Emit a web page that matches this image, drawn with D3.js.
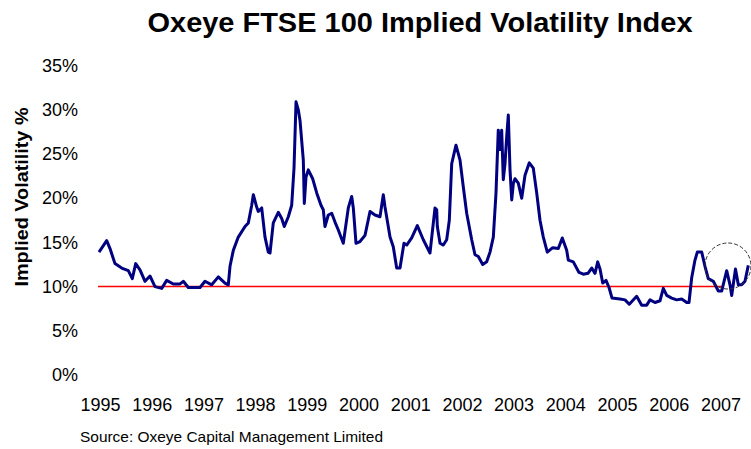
<!DOCTYPE html>
<html>
<head>
<meta charset="utf-8">
<script src="https://cdn.jsdelivr.net/npm/d3@7"></script>
<style>
  html, body { margin: 0; padding: 0; background: #fff; }
  svg { display: block; font-family: Arial, "Liberation Sans", sans-serif; }
</style>
</head>
<body>
<div id="chart"></div>
<script>
// decimal year of each reading
const years = [
  1995.000, 1995.149, 1995.213, 1995.309, 1995.439, 1995.567, 1995.644, 1995.710, 1995.793, 1995.890,
  1995.986, 1996.083, 1996.213, 1996.309, 1996.437, 1996.567, 1996.631, 1996.727, 1996.954, 1997.050,
  1997.180, 1997.308, 1997.437, 1997.501, 1997.534, 1997.598, 1997.694, 1997.824, 1997.888, 1997.954,
  1997.985, 1998.050, 1998.081, 1998.147, 1998.211, 1998.275, 1998.308, 1998.371, 1998.468, 1998.534,
  1998.584, 1998.662, 1998.727, 1998.772, 1998.811, 1998.855, 1998.888, 1998.952, 1998.971, 1999.004,
  1999.048, 1999.133, 1999.211, 1999.294, 1999.338, 1999.371, 1999.435, 1999.501, 1999.565, 1999.629,
  1999.725, 1999.822, 1999.888, 1999.919, 1999.971, 2000.048, 2000.145, 2000.242, 2000.338, 2000.435,
  2000.499, 2000.532, 2000.629, 2000.692, 2000.758, 2000.822, 2000.899, 2000.952, 2001.048, 2001.157,
  2001.273, 2001.402, 2001.499, 2001.532, 2001.544, 2001.596, 2001.660, 2001.725, 2001.776, 2001.822,
  2001.905, 2001.983, 2002.046, 2002.112, 2002.209, 2002.273, 2002.337, 2002.422, 2002.499, 2002.563,
  2002.627, 2002.679, 2002.723, 2002.756, 2002.789, 2002.820, 2002.853, 2002.886, 2002.917, 2002.950,
  2002.983, 2003.015, 2003.046, 2003.110, 2003.176, 2003.240, 2003.323, 2003.400, 2003.466, 2003.530,
  2003.594, 2003.671, 2003.776, 2003.884, 2003.961, 2004.046, 2004.077, 2004.174, 2004.284, 2004.368,
  2004.458, 2004.530, 2004.594, 2004.646, 2004.691, 2004.743, 2004.807, 2004.865, 2004.923, 2005.077,
  2005.174, 2005.257, 2005.400, 2005.497, 2005.594, 2005.658, 2005.754, 2005.851, 2005.915, 2005.981,
  2006.077, 2006.174, 2006.271, 2006.368, 2006.412, 2006.464, 2006.528, 2006.573, 2006.658, 2006.721,
  2006.785, 2006.882, 2006.979, 2007.044, 2007.141, 2007.205, 2007.238, 2007.311, 2007.366, 2007.431,
  2007.495, 2007.559
];

// implied volatility, %
const vols = [
  13.9, 15.2, 14.3, 12.6, 12.1, 11.8, 10.9, 12.6, 11.9, 10.6,
  11.2, 10.0, 9.8, 10.7, 10.3, 10.3, 10.6, 9.9, 9.9, 10.6,
  10.2, 11.1, 10.4, 10.2, 12.3, 14.1, 15.6, 16.8, 17.2, 19.2,
  20.4, 19.0, 18.5, 18.9, 15.6, 13.9, 13.8, 17.2, 18.4, 17.7,
  16.8, 17.9, 19.2, 23.4, 30.9, 30.0, 28.8, 24.3, 19.4, 22.4,
  23.2, 22.2, 20.6, 19.2, 18.7, 16.8, 18.1, 18.3, 17.3, 16.4,
  14.9, 18.9, 20.2, 18.9, 14.9, 15.1, 15.8, 18.5, 18.1, 17.9,
  20.4, 19.0, 15.6, 14.5, 12.1, 12.1, 14.9, 14.7, 15.5, 16.9,
  15.3, 13.8, 18.9, 18.7, 16.8, 14.9, 14.7, 15.3, 17.5, 23.9,
  26.0, 24.3, 21.3, 18.3, 15.3, 13.6, 13.4, 12.5, 12.8, 13.9,
  15.6, 20.6, 27.7, 25.5, 27.7, 22.1, 23.9, 27.0, 29.4, 23.2,
  19.8, 21.7, 22.2, 21.7, 20.0, 22.6, 24.0, 23.4, 20.6, 17.5,
  15.6, 13.9, 14.4, 14.3, 15.5, 14.1, 13.0, 12.8, 11.6, 11.4,
  11.5, 12.1, 11.5, 12.8, 12.0, 10.4, 10.7, 9.9, 8.7, 8.6,
  8.5, 8.0, 8.9, 7.9, 7.9, 8.5, 8.2, 8.4, 9.8, 9.0,
  8.7, 8.5, 8.6, 8.2, 8.2, 11.0, 13.0, 13.9, 13.9, 12.3,
  10.9, 10.6, 9.5, 9.5, 11.8, 10.2, 9.0, 12.0, 10.2, 10.2,
  10.6, 12.4
];

const yearTicks = [1995, 1996, 1997, 1998, 1999, 2000, 2001, 2002, 2003, 2004, 2005, 2006, 2007];
const volTicks = [0, 5, 10, 15, 20, 25, 30, 35];

// 10% reference level and the period it spans
const refLevel = 10;
const refSpan = [1995.0, 2007.05];

// circled recent readings
const highlight = { year: 2007.166, vol: 12.33 };

const width = 751;
const height = 449;

const svg = d3.select('#chart')
  .append('svg')
  .attr('width', width)
  .attr('height', height);

const x = d3.scaleLinear()
  .domain([1995, 2007.559])
  .range([99, 748.3]);

const y = d3.scaleLinear()
  .domain([0, 35])
  .range([375, 65.6]);

// Title
svg.append('text')
  .attr('x', 420)
  .attr('y', 32)
  .attr('text-anchor', 'middle')
  .attr('textLength', 545)
  .attr('lengthAdjust', 'spacingAndGlyphs')
  .style('font-size', '27px')
  .style('font-weight', 'bold')
  .text('Oxeye FTSE 100 Implied Volatility Index');

// Y axis (labels only)
const yAxis = svg.append('g')
  .attr('transform', 'translate(84,0)')
  .call(d3.axisLeft(y).tickValues(volTicks).tickFormat((d) => d + '%').tickSize(0).tickPadding(6));
yAxis.select('.domain').remove();
yAxis.selectAll('text')
  .attr('fill', '#000')
  .style('font-size', '18px')
  .style('font-family', 'Arial, "Liberation Sans", sans-serif');

// X axis (labels only)
const xAxis = svg.append('g')
  .attr('transform', 'translate(1,392)')
  .call(d3.axisBottom(x).tickValues(yearTicks).tickFormat(d3.format('d')).tickSize(0).tickPadding(6));
xAxis.select('.domain').remove();
xAxis.selectAll('text')
  .attr('fill', '#000')
  .style('font-size', '18px')
  .style('font-family', 'Arial, "Liberation Sans", sans-serif');

// Y axis title
svg.append('text')
  .attr('transform', 'translate(28,197) rotate(-90)')
  .attr('text-anchor', 'middle')
  .attr('textLength', 179)
  .attr('lengthAdjust', 'spacingAndGlyphs')
  .style('font-size', '18px')
  .style('font-weight', 'bold')
  .text('Implied Volatility %');

// 10% reference line
svg.append('line')
  .attr('x1', x(refSpan[0]) - 1)
  .attr('x2', x(refSpan[1]))
  .attr('y1', y(refLevel))
  .attr('y2', y(refLevel))
  .attr('stroke', '#ff0000')
  .attr('stroke-width', 1.5);

// Volatility series
const line = d3.line()
  .x((d, i) => x(years[i]))
  .y((d) => y(d));

svg.append('path')
  .datum(vols)
  .attr('fill', 'none')
  .attr('stroke', '#000080')
  .attr('stroke-width', 3)
  .attr('stroke-linejoin', 'round')
  .attr('d', line);

// Dashed circle round the latest readings
svg.append('circle')
  .attr('cx', x(highlight.year))
  .attr('cy', y(highlight.vol))
  .attr('r', 23)
  .attr('fill', 'none')
  .attr('stroke', '#333')
  .attr('stroke-width', 1)
  .attr('stroke-dasharray', '4,2');

// Source note
svg.append('text')
  .attr('x', 80)
  .attr('y', 442)
  .attr('textLength', 303)
  .attr('lengthAdjust', 'spacingAndGlyphs')
  .style('font-size', '15px')
  .text('Source: Oxeye Capital Management Limited');
</script>
</body>
</html>
